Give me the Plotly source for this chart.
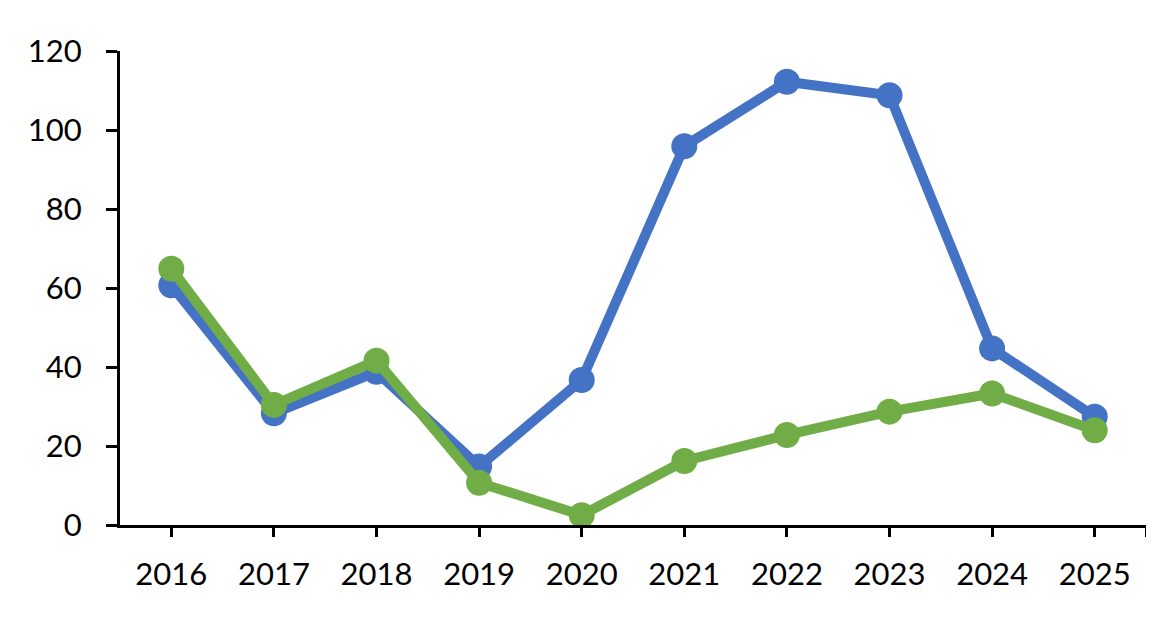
import plotly.graph_objects as go

years = ["2016", "2017", "2018", "2019", "2020", "2021", "2022", "2023", "2024", "2025"]
blue_values = [60.7, 28.3, 38.8, 14.8, 36.7, 95.9, 112.2, 108.8, 44.7, 27.4]
green_values = [64.9, 30.4, 41.6, 10.7, 2.5, 16.2, 22.8, 28.7, 33.3, 24.0]
y_ticks = [0, 20, 40, 60, 80, 100, 120]

idx = list(range(len(years)))

fig = go.Figure()
fig.add_trace(go.Scatter(x=idx, y=blue_values, mode="lines+markers",
                         line=dict(color="#4472C4", width=10),
                         marker=dict(color="#4472C4", size=26),
                         cliponaxis=False, showlegend=False))
fig.add_trace(go.Scatter(x=idx, y=green_values, mode="lines+markers",
                         line=dict(color="#70AD47", width=10),
                         marker=dict(color="#70AD47", size=26),
                         cliponaxis=False, showlegend=False))

fig.update_layout(
    width=1154, height=624,
    margin=dict(l=112, r=16, t=43, b=107),
    paper_bgcolor="white", plot_bgcolor="white",
    font=dict(family="Lato", size=31, color="black"),
    xaxis=dict(range=[-0.5, len(years) - 0.5],
               tickvals=idx + [len(years) - 0.5],
               ticktext=years + [""],
               showgrid=False, zeroline=False,
               showline=True, linecolor="black", linewidth=3,
               ticks="outside", ticklen=9, tickwidth=3, tickcolor="black",
               ticklabelstandoff=11),
    yaxis=dict(range=[0, 120], tickvals=y_ticks,
               showgrid=False, zeroline=False,
               showline=True, linecolor="black", linewidth=3,
               ticks="outside", ticklen=11, tickwidth=3, tickcolor="black",
               ticklabelstandoff=18),
)

fig.write_html("out.html")
